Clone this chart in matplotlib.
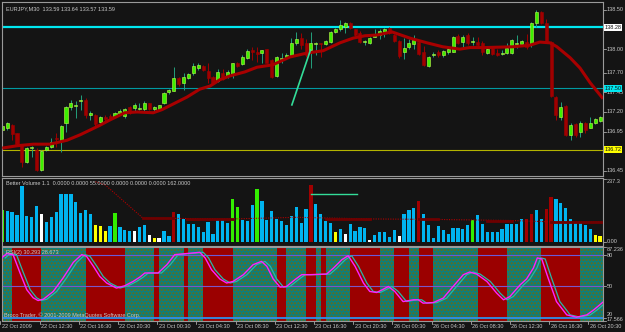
import matplotlib.pyplot as plt
import numpy as np

plt.rcParams['font.family'] = ['Liberation Sans', 'DejaVu Sans']

W, H = 625, 332
BG = '#141414'
FG = '#c8c8c8'

# EURJPY M30 candles, one per 30 minutes
opens = [136.97, 137.00, 137.03, 136.93, 136.78, 136.56, 136.74, 136.72, 136.46, 136.72,
         136.75, 136.87, 136.83, 137.06, 137.26, 137.28, 137.34, 137.35, 137.16, 137.16,
         137.07, 137.14, 137.15, 137.15, 137.19, 137.15, 137.26, 137.25, 137.24, 137.24,
         137.31, 137.24, 137.24, 137.31, 137.46, 137.47, 137.63, 137.57, 137.63, 137.70,
         137.76, 137.79, 137.72, 137.65, 137.60, 137.70, 137.66, 137.68, 137.82, 137.81,
         137.89, 137.99, 137.96, 137.95, 138.00, 137.86, 137.66, 137.88, 137.90, 137.93,
         138.08, 138.14, 138.08, 137.99, 138.07, 138.08, 138.07, 138.09, 138.22, 138.25,
         138.28, 138.33, 138.25, 138.21, 138.09, 138.08, 138.16, 138.18, 138.22, 138.27,
         138.18, 138.10, 137.96, 138.03, 138.07, 138.09, 137.96, 137.79, 137.93, 137.96,
         137.93, 137.96, 137.96, 138.17, 138.09, 138.18, 138.09, 138.09, 138.08, 137.95,
         138.02, 137.95, 137.94, 137.95, 137.95, 138.07, 138.07, 138.09, 138.07, 138.33,
         138.47, 138.33, 138.09, 137.39, 137.14, 137.28, 136.91, 137.05, 136.95, 137.06,
         137.00, 137.06, 137.09]
highs = [137.05, 137.07, 137.05, 136.93, 136.79, 136.75, 136.77, 136.74, 136.72, 136.77,
         136.87, 136.93, 137.03, 137.28, 137.35, 137.34, 137.42, 137.38, 137.21, 137.18,
         137.15, 137.16, 137.18, 137.20, 137.24, 137.25, 137.28, 137.31, 137.31, 137.34,
         137.31, 137.28, 137.29, 137.46, 137.49, 137.77, 137.65, 137.70, 137.70, 137.82,
         137.82, 137.80, 137.82, 137.66, 137.75, 137.75, 137.74, 137.82, 137.84, 137.93,
         138.00, 138.03, 138.03, 137.99, 138.00, 137.88, 137.91, 137.95, 137.95, 138.14,
         138.22, 138.21, 138.13, 138.22, 138.09, 138.08, 138.12, 138.23, 138.27, 138.37,
         138.35, 138.35, 138.26, 138.23, 138.12, 138.16, 138.25, 138.25, 138.27, 138.28,
         138.19, 138.12, 138.14, 138.13, 138.18, 138.10, 138.04, 137.91, 137.96, 137.99,
         137.99, 138.02, 138.17, 138.19, 138.18, 138.21, 138.16, 138.16, 138.10, 138.02,
         138.03, 138.00, 137.99, 138.08, 138.13, 138.18, 138.12, 138.19, 138.35, 138.50,
         138.49, 138.38, 138.10, 137.40, 137.33, 137.29, 137.06, 137.06, 137.09, 137.07,
         137.14, 137.12, 137.15]
lows = [136.95, 136.97, 136.84, 136.78, 136.50, 136.55, 136.63, 136.45, 136.45, 136.70,
        136.74, 136.75, 136.69, 136.95, 137.23, 137.12, 137.23, 137.12, 137.10, 137.02,
        137.06, 137.09, 137.10, 137.14, 137.18, 137.12, 137.18, 137.21, 137.23, 137.21,
        137.23, 137.21, 137.23, 137.30, 137.43, 137.47, 137.53, 137.48, 137.62, 137.67,
        137.74, 137.72, 137.57, 137.56, 137.58, 137.61, 137.63, 137.63, 137.77, 137.80,
        137.88, 137.86, 137.84, 137.82, 137.82, 137.63, 137.65, 137.82, 137.89, 137.91,
        138.05, 138.00, 137.90, 137.76, 137.93, 137.90, 138.05, 138.08, 138.21, 138.23,
        138.21, 138.26, 138.17, 138.08, 138.05, 138.07, 138.16, 138.13, 138.16, 138.19,
        138.09, 137.89, 137.88, 138.00, 138.00, 137.93, 137.79, 137.77, 137.90, 137.90,
        137.90, 137.94, 137.96, 138.07, 138.03, 138.05, 138.05, 138.03, 137.93, 137.94,
        137.93, 137.91, 137.93, 137.94, 137.94, 138.02, 138.05, 138.00, 138.03, 138.28,
        138.32, 138.09, 137.39, 137.10, 137.10, 136.90, 136.84, 136.88, 136.88, 136.93,
        137.00, 137.05, 137.07]
closes = [137.02, 137.06, 136.92, 136.79, 136.56, 136.74, 136.75, 136.46, 136.70, 136.75,
          136.82, 136.86, 137.02, 137.26, 137.31, 137.29, 137.35, 137.16, 137.19, 137.05,
          137.14, 137.11, 137.12, 137.19, 137.21, 137.24, 137.19, 137.29, 137.25, 137.31,
          137.24, 137.26, 137.29, 137.44, 137.48, 137.63, 137.56, 137.65, 137.68, 137.79,
          137.80, 137.74, 137.63, 137.57, 137.71, 137.62, 137.71, 137.82, 137.79, 137.90,
          137.98, 137.96, 137.94, 137.99, 137.82, 137.65, 137.90, 137.89, 137.93, 138.08,
          138.13, 138.05, 137.93, 138.08, 138.08, 138.07, 138.10, 138.22, 138.26, 138.31,
          138.33, 138.27, 138.18, 138.09, 138.10, 138.14, 138.18, 138.23, 138.26, 138.21,
          138.10, 137.91, 138.02, 138.08, 138.12, 137.94, 137.80, 137.90, 137.94, 137.93,
          137.98, 138.00, 138.16, 138.08, 138.16, 138.08, 138.10, 138.05, 137.96, 138.00,
          137.94, 137.93, 137.95, 138.02, 138.12, 138.08, 138.10, 138.03, 138.33, 138.47,
          138.33, 138.10, 137.40, 137.16, 137.26, 136.91, 137.03, 136.91, 137.06, 136.97,
          137.06, 137.11, 137.14]

# moving average (read at these bar positions)
ma_bar = [0, 3, 6.3, 9.7, 13.2, 15.9, 17.9, 19.9, 22, 25, 27.5, 30.8, 32.6, 34.2, 37.7,
          40.3, 42.4, 44.4, 46.5, 49.5, 52, 55.2, 58.7, 62.2, 65.5, 68.9, 71.6, 74, 76.5,
          79.5, 83.2, 86.7, 89.9, 93.4, 95.4, 98.5, 104.2, 107.7, 109.7, 111.8, 113.2,
          115.9, 117.9, 120, 122.6]
ma_val = [136.74, 136.77, 136.79, 136.79, 136.84, 136.91, 136.97, 137.03, 137.10, 137.19,
          137.20, 137.19, 137.23, 137.28, 137.39, 137.49, 137.53, 137.61, 137.66, 137.71,
          137.77, 137.80, 137.90, 137.95, 137.98, 138.08, 138.14, 138.17, 138.18, 138.22,
          138.14, 138.08, 138.03, 138.00, 138.02, 138.02, 138.03, 138.05, 138.09, 138.08,
          138.03, 137.89, 137.76, 137.57, 137.37]

levels = [138.28, 137.50, 136.72]
level_colors = ['#00e8f0', '#009aa2', '#b4b400']
price_ticks = [138.50, 138.00, 137.70, 137.45, 137.20, 136.95, 136.45]
trend_bar = [59.1, 62.9]
trend_val = [137.29, 137.99]

# Better Volume
volume = [119, 117, 113, 101, 210, 97, 92, 134, 104, 75,
          92, 113, 180, 180, 180, 151, 107, 119, 104, 63,
          59, 40, 59, 107, 54, 44, 41, 40, 54, 63,
          25, 13, 13, 41, 21, 113, 104, 84, 67, 67,
          54, 35, 75, 31, 84, 84, 69, 160, 132, 82,
          79, 138, 197, 153, 82, 117, 84, 79, 63, 97,
          129, 72, 122, 214, 142, 103, 79, 69, 36, 47,
          29, 67, 40, 54, 50, 6, 25, 38, 38, 19,
          44, 21, 104, 119, 126, 153, 104, 63, 16, 59,
          44, 29, 53, 50, 47, 63, 82, 101, 67, 36,
          36, 35, 48, 67, 67, 67, 84, 84, 104, 119,
          84, 122, 167, 160, 147, 126, 84, 69, 73, 63,
          48, 25, 23]
vol_codes = ("GBBBBBBBWBBBBBBBBBBYYYBGBBBWBBWYWBBR"
             "BBBBBBBBBBBGGBBBGBBBBBBBBBBRBBBBYBWBBBBWBBBBBWBBBR"
             "BBBBBBBBBBGBBBBBBBBBBRRBBRRBBBBBBBBYY")
vol_palette = {'B': '#00b4f0', 'G': '#33ee00', 'W': '#ffffff', 'Y': '#ffff00', 'R': '#a00000'}
vol_avg_bar = [19, 21, 28.7, 35, 47, 60, 75, 89, 104, 112, 122.6]
vol_avg_val = [226, 214, 89, 88, 86, 92, 86, 84, 80, 75, 75]
vol_thick = [(28.7, 34.8, 88), (37.7, 47, 87), (66, 75, 87), (85, 89, 84), (99, 104, 80), (112, 122.6, 75)]

# RSI(2)
rsi_bar = [-0.1, 0.9, 2.2, 3.6, 5.0, 6.3, 7.3, 8.4, 10.4, 12.4, 14.5, 16.2, 17.2, 18.6, 19.9,
           21.3, 23.3, 25.0, 26.7, 28.1, 29.1, 30.5, 31.8, 33.6, 35.2, 37.6, 40.3, 41.4, 42.7,
           44.4, 45.8, 47.1, 49.2, 51.2, 52.9, 54.0, 55.3, 56.7, 58.0, 59.7, 61.1, 62.8, 66.2,
           67.6, 69.3, 70.6, 72.0, 73.7, 75.0, 76.4, 77.8, 78.8, 80.1, 81.8, 83.9, 84.9, 85.9,
           88.0, 90.0, 92.0, 94.1, 95.4, 96.8, 98.9, 100.9, 102.3, 103.6, 105.7, 107.0, 108.4,
           109.2, 110.1, 111.4, 113.1, 115.2, 117.2, 119.3, 120.7, 122.6]
rsi_val = [76.9, 81.0, 80.0, 62.9, 46.7, 39.1, 36.5, 37.8, 45.1, 57.8, 72.7, 80.0, 78.4, 68.9,
           59.3, 53.1, 48.3, 50.5, 54.6, 58.8, 62.6, 62.6, 62.6, 70.5, 80.0, 81.0, 82.2, 76.9,
           65.7, 56.9, 53.1, 54.6, 61.0, 70.5, 73.6, 68.9, 56.9, 49.2, 49.8, 56.2, 61.0, 61.0,
           61.6, 67.3, 75.2, 79.0, 68.9, 53.1, 45.1, 44.1, 47.3, 49.8, 45.1, 35.5, 37.2, 37.2,
           34.0, 34.6, 38.8, 49.8, 61.0, 63.5, 61.6, 54.6, 43.5, 37.2, 40.3, 51.4, 56.9, 67.3,
           76.9, 75.9, 57.8, 35.5, 22.9, 20.7, 22.9, 27.6, 35.0]
band_kind = ['T', 'R', 'T', 'R', 'T', 'R', 'T', 'R', 'T', 'R', 'T', 'R', 'T', 'R',
             'T', 'R', 'T', 'R', 'T', 'R', 'T', 'R', 'T', 'R', 'T', 'R', 'T']
band_len = [2, 6, 9, 8, 6, 1, 5, 1, 3, 6, 9, 2, 4, 2, 1, 1, 5, 6, 3, 3, 2, 3, 9, 6, 7, 8, 5]
rsi_levels = [80, 50, 20]
rsi_level_colors = ['#6a5ad8', '#7a56c8', '#2f8fe8']

time_labels = ['22 Oct 2009', '22 Oct 12:30', '22 Oct 16:30', '22 Oct 20:30', '23 Oct 00:30',
               '23 Oct 04:30', '23 Oct 08:30', '23 Oct 12:30', '23 Oct 16:30', '23 Oct 20:30',
               '26 Oct 00:30', '26 Oct 04:30', '26 Oct 08:30', '26 Oct 12:30', '26 Oct 16:30',
               '26 Oct 20:30']
label_bars = [0, 8, 16, 24, 32, 40, 48, 56, 64, 72, 80, 88, 96, 104, 112, 120]

FS = 4.0
XLIM = (-0.06, 122.6)


def rect(x0, y0, x1, y1):
    return [x0 / W, 1 - y1 / H, (x1 - x0) / W, (y1 - y0) / H]


def style(ax):
    ax.set_facecolor(BG)
    ax.set_xlim(*XLIM)
    ax.set_xticks([])
    ax.set_yticks([])
    for s in ax.spines.values():
        s.set_color('#9a9a9a')
        s.set_linewidth(0.8)


def right_label(ax, val, text, box=None, ty=None):
    tr = ax.get_yaxis_transform()
    ax.plot([1.0, 1.005], [val, val], color=FG, lw=0.5, transform=tr, clip_on=False)
    ty = val if ty is None else ty
    if box:
        ax.text(1.0025, ty, text, transform=tr, fontsize=FS, color='#101010', va='center',
                ha='left', bbox=dict(facecolor=box, edgecolor='none', pad=0.7))
    else:
        ax.text(1.006, ty, text, transform=tr, fontsize=FS, color=FG, va='center', ha='left')


fig = plt.figure(figsize=(W / 100, H / 100), dpi=100, facecolor=BG)

# ---- price panel
ax = fig.add_axes(rect(2, 2, 603, 176))
style(ax)
ax.set_ylim(136.385, 138.60)
idx = np.arange(len(opens))
o = np.array(opens)
c = np.array(closes)
hi = np.array(highs)
lo = np.array(lows)
up = c >= o
ax.axhline(138.297, color='#a8a8a8', lw=0.7)
for lv, lc, lw in zip(levels, level_colors, [1.6, 0.8, 0.8]):
    ax.axhline(lv, color=lc, lw=lw)
ax.vlines(idx[up], lo[up], hi[up], color='#23a07c', lw=0.7, zorder=2)
ax.vlines(idx[~up], lo[~up], hi[~up], color='#a00000', lw=0.7, zorder=2)
body_lo = np.minimum(o, c)
body_h = np.maximum(np.abs(c - o), 0.012)
ax.bar(idx[up], body_h[up], bottom=body_lo[up], width=0.62, color='#3cf000',
       edgecolor='#c4f850', lw=0.4, zorder=2)
ax.bar(idx[~up], body_h[~up], bottom=body_lo[~up], width=0.62, color='#a00000',
       edgecolor='#a00000', lw=0.4, zorder=2)
ax.plot(ma_bar, ma_val, color='#a80000', lw=2.2, zorder=3, solid_capstyle='butt')
ax.plot(trend_bar, trend_val, color='#33dd99', lw=1.2, zorder=4)
ax.text(0.006, 0.975, 'EURJPY,M30  133.59 133.64 133.57 133.59', transform=ax.transAxes,
        fontsize=FS, color=FG, va='top', ha='left')
for t in price_ticks:
    right_label(ax, t, '%.2f' % t)
for lv, bx in zip(levels, ['#ffffff', '#00e8f0', '#ffff00']):
    right_label(ax, lv, '%.2f' % lv, box=bx)

# ---- volume panel
av = fig.add_axes(rect(2, 178, 603, 245.5))
style(av)
av.set_ylim(-14, 240)
av.bar(idx, volume, width=0.66, color=[vol_palette[k] for k in vol_codes], zorder=2)
av.plot(vol_avg_bar, vol_avg_val, color='#b00000', lw=0.8, ls=(0, (1, 1.2)), zorder=3)
for x0, x1, v in vol_thick:
    av.plot([x0, x1], [v, v], color='#6e0000', lw=2.0, zorder=3)
av.plot([63, 72.4], [180, 180], color='#33dd99', lw=1.0, zorder=4)
av.text(0.006, 0.95, 'Better Volume 1.1  0.0000 0.0000 55.0000 0.0000 0.0000 0.0000 162.0000',
        transform=av.transAxes, fontsize=FS, color=FG, va='top', ha='left', zorder=5)
right_label(av, 237.3, '237.3', ty=225)
right_label(av, 0, '0.00')

# ---- RSI panel
ar = fig.add_axes(rect(2, 247, 603, 320.5))
style(ar)
ar.set_ylim(17.566, 87.236)
start = 0
for kind, n in zip(band_kind, band_len):
    xs = np.arange(start, start + n)
    if kind == 'T':
        ar.bar(xs, 87.236 - 17.566, bottom=17.566, width=1.0, align='edge', color='#0b7f7c',
               edgecolor='#6d6a14', hatch='.....', lw=0, zorder=1)
    else:
        ar.bar(xs, 87.236 - 17.566, bottom=17.566, width=1.0, align='edge', color='#9b0000',
               lw=0, zorder=1)
    start += n
for lv, lc, lw in zip(rsi_levels, rsi_level_colors, [0.8, 0.8, 1.3]):
    ar.axhline(lv, color=lc, lw=lw, zorder=2)
sig_lag = 0.7
ar.plot(np.array(rsi_bar) + sig_lag, rsi_val, color='#28b8a8', lw=0.9, zorder=3)
ar.plot(rsi_bar, rsi_val, color='#ff22ff', lw=1.0, zorder=4)
ar.text(0.006, 0.96, 'RSI(2) 30.293 28.673', transform=ar.transAxes, fontsize=FS,
        color=FG, va='top', ha='left', zorder=5)
ar.text(0.004, 0.04, 'Broco Trader, \u00a9 2001-2009 MetaQuotes Software Corp.',
        transform=ar.transAxes, fontsize=FS, color=FG, va='bottom', ha='left', zorder=5)
right_label(ar, 87.236, '87.236', ty=84.8)
right_label(ar, 80, '80', ty=79.5)
right_label(ar, 50, '50')
right_label(ar, 20, '20', ty=23.4)
right_label(ar, 17.566, '17.566', ty=18.3)

# ---- time axis
xt = ar.get_xaxis_transform()
for b, lab in zip(label_bars, time_labels):
    ar.plot([b - 0.4, b - 0.4], [0, -0.05], color=FG, lw=0.5, transform=xt, clip_on=False)
    ar.text(b - 0.1, -0.045, lab, transform=xt, fontsize=FS, color=FG, va='top', ha='left')

fig.savefig('out.png', dpi=100, facecolor=BG)
